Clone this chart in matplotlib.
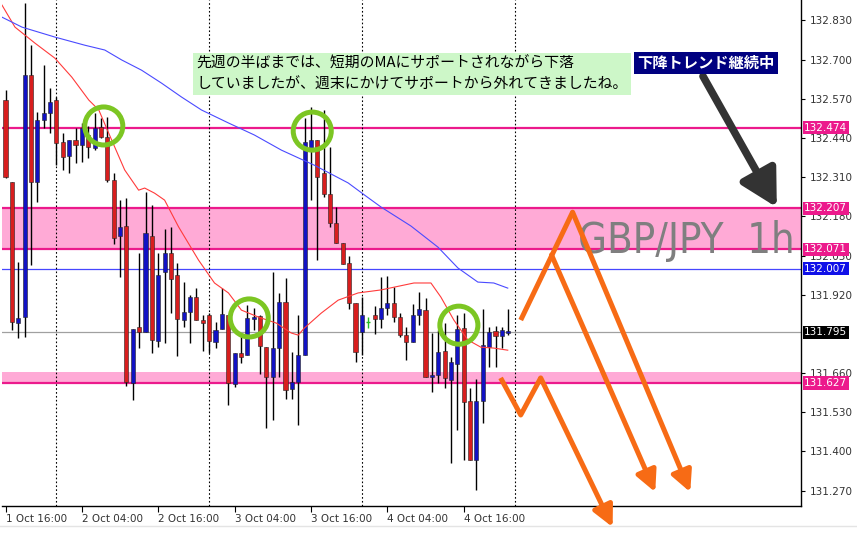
import matplotlib
matplotlib.use("Agg")
import matplotlib.pyplot as plt
import matplotlib.transforms as mtransforms
from matplotlib.lines import Line2D

# GBP/JPY hourly candles, 1 Oct 16:00 onwards
opens = [132.566, 132.294, 131.826, 131.846, 132.649, 132.294, 132.500, 132.523, 132.566, 132.427,
         132.380, 132.434, 132.417, 132.450, 132.407, 132.477, 132.443, 132.301, 132.115, 132.148,
         131.627, 131.813, 131.796, 132.115, 131.767, 131.996, 132.059, 131.986, 131.836, 131.863,
         131.913, 131.836, 131.853, 131.763, 131.806, 131.853, 131.624, 131.727, 131.720, 131.840,
         131.850, 131.747, 131.647, 131.743, 131.896, 131.607, 131.631, 131.720, 132.407, 132.434,
         132.324, 132.254, 132.158, 132.092, 132.025, 131.893, 131.796, 131.830, 131.853, 131.840,
         131.876, 131.893, 131.846, 131.787, 131.763, 131.853, 131.869, 131.647, 131.654, 131.733,
         131.637, 131.690, 131.810, 131.568, 131.372, 131.568, 131.747, 131.800, 131.783, 131.794]
highs = [132.599, 132.294, 132.029, 132.888, 132.749, 132.526, 132.682, 132.606, 132.576, 132.457,
         132.434, 132.473, 132.490, 132.480, 132.523, 132.506, 132.510, 132.324, 132.234, 132.241,
         131.806, 132.059, 132.261, 132.218, 132.059, 132.138, 132.145, 132.025, 131.962, 131.919,
         131.942, 131.853, 131.860, 131.830, 131.942, 131.853, 131.727, 131.787, 131.886, 131.876,
         131.853, 131.747, 131.996, 131.926, 131.976, 131.730, 131.853, 132.506, 132.543, 132.434,
         132.533, 132.410, 132.211, 132.092, 132.049, 131.893, 131.913, 131.846, 131.883, 131.979,
         131.982, 131.946, 131.860, 131.813, 131.889, 131.929, 131.909, 131.793, 131.803, 131.826,
         131.714, 131.853, 131.860, 131.611, 131.641, 131.873, 131.813, 131.816, 131.813, 131.873]
lows = [132.307, 131.803, 131.777, 131.780, 132.019, 132.228, 132.473, 132.457, 132.351, 132.334,
        132.324, 132.357, 132.361, 132.374, 132.400, 132.440, 132.294, 132.088, 131.979, 131.617,
        131.571, 131.743, 131.796, 131.727, 131.747, 131.760, 131.860, 131.717, 131.813, 131.760,
        131.836, 131.733, 131.727, 131.743, 131.806, 131.554, 131.614, 131.694, 131.720, 131.803,
        131.657, 131.478, 131.505, 131.647, 131.574, 131.574, 131.488, 131.720, 132.234, 132.035,
        132.244, 132.145, 132.092, 132.022, 131.873, 131.697, 131.720, 131.810, 131.790, 131.810,
        131.853, 131.830, 131.780, 131.704, 131.763, 131.820, 131.647, 131.597, 131.627, 131.611,
        131.362, 131.471, 131.372, 131.372, 131.272, 131.495, 131.680, 131.680, 131.743, 131.787]
closes = [132.311, 131.830, 131.843, 132.649, 132.294, 132.500, 132.523, 132.560, 132.424, 132.377,
          132.434, 132.417, 132.473, 132.410, 132.473, 132.443, 132.301, 132.108, 132.145, 131.631,
          131.806, 131.796, 132.125, 131.770, 131.986, 132.059, 131.972, 131.840, 131.863, 131.913,
          131.836, 131.826, 131.767, 131.803, 131.856, 131.627, 131.727, 131.714, 131.843, 131.846,
          131.750, 131.647, 131.743, 131.896, 131.604, 131.631, 131.720, 132.427, 132.434, 132.311,
          132.254, 132.158, 132.092, 132.022, 131.893, 131.730, 131.853, 131.830, 131.840, 131.876,
          131.893, 131.846, 131.787, 131.763, 131.853, 131.873, 131.647, 131.654, 131.730, 131.644,
          131.697, 131.806, 131.564, 131.372, 131.568, 131.753, 131.796, 131.783, 131.803, 131.797]

tick_bars = [0, 12, 24, 36, 48, 60, 72]
tick_labels = ["1 Oct 16:00", "2 Oct 04:00", "2 Oct 16:00", "3 Oct 04:00",
               "3 Oct 16:00", "4 Oct 04:00", "4 Oct 16:00"]
day_breaks = [8, 32, 56, 80]

price_ticks = [132.830, 132.700, 132.570, 132.440, 132.310, 132.180, 132.050,
               131.920, 131.660, 131.530, 131.400, 131.270]

# moving averages (bar index, price)
fast_ma_x = [-0.55, 1.49, 4.62, 7.76, 10.42, 13.09, 14.66, 16.69, 18.73, 20.92, 21.87, 23.43,
             25.0, 27.2, 30.33, 32.84, 35.03, 37.07, 39.73, 42.55, 44.9, 46.0, 46.94, 49.61,
             52.27, 55.41, 59.01, 64.18, 66.85, 68.42, 70.45, 72.65, 74.69, 76.72, 78.92]
fast_ma_y = [132.881, 132.808, 132.755, 132.705, 132.642, 132.566, 132.533, 132.433, 132.334,
             132.267, 132.274, 132.257, 132.234, 132.145, 132.035, 131.959, 131.926, 131.869,
             131.846, 131.826, 131.793, 131.786, 131.809, 131.859, 131.902, 131.926, 131.936,
             131.959, 131.959, 131.912, 131.836, 131.770, 131.746, 131.743, 131.736]
slow_ma_x = [-0.55, 2.59, 7.76, 12.46, 15.6, 18.26, 21.39, 24.53, 27.66, 30.8, 35.03, 39.11,
             43.34, 48.51, 53.84, 56.66, 59.01, 63.71, 67.95, 71.08, 74.22, 76.72, 78.92]
slow_ma_y = [132.841, 132.808, 132.775, 132.748, 132.732, 132.699, 132.665, 132.622, 132.576,
             132.533, 132.490, 132.450, 132.400, 132.350, 132.291, 132.247, 132.211, 132.148,
             132.078, 132.009, 131.962, 131.959, 131.942]

# horizontal levels
resistance = 132.474
zone_top = 132.207
zone_bottom = 132.071
blue_level = 132.007
last_price = 131.795
support = 131.627
support_zone_top = 131.664

# annotation marks
circle_x = [15.44, 48.2, 38.3, 71.24]
circle_y = [132.480, 132.463, 131.843, 131.819]

upper_path_x = [80.96, 89.11, 107.6]
upper_path_y = [131.836, 132.194, 131.265]
inner_path_x = [85.8, 102.1]
inner_path_y = [132.052, 131.265]
lower_path_x = [77.8, 80.96, 84.1, 95.4]
lower_path_y = [131.644, 131.521, 131.644, 131.149]

RED = "#d81e1e"
BLUE = "#1212c4"
PINK_LINE = "#ec1a8c"
PINK_FILL = "#ffaad6"
ORANGE = "#f76b15"
JP = ["Noto Sans CJK JP", "DejaVu Sans"]

fig = plt.figure(figsize=(8.57, 5.38), dpi=100)
ax = fig.add_axes([2 / 857, 32 / 538, 799 / 857, 506 / 538])
ax.set_xlim(-0.55, 125)
ax.set_ylim(131.219, 132.898)

# zones and levels
ax.axhspan(zone_bottom, zone_top, color=PINK_FILL, lw=0, zorder=1)
ax.axhspan(support, support_zone_top, color=PINK_FILL, lw=0, zorder=1)
for lv in [resistance, zone_top, zone_bottom, support]:
    ax.axhline(lv, color=PINK_LINE, lw=1.6, zorder=2)
ax.axhline(blue_level, color="#4646ff", lw=0.9, zorder=2)
ax.axhline(last_price, color="#a0a0a0", lw=0.9, zorder=2)

for b in day_breaks:
    ax.axvline(b, color="black", lw=0.8, ls=(0, (1.5, 2)), zorder=2)

# candles
for i, (o, h, l, c) in enumerate(zip(opens, highs, lows, closes)):
    if c > o:
        col = BLUE
    elif c < o:
        col = RED
    else:
        col = "#22bb22"
    ax.vlines(i, l, h, color="black" if col != "#22bb22" else col, lw=1.0, zorder=3)
    if col == "#22bb22":
        ax.hlines(o, i - 0.3, i + 0.3, color=col, lw=1.0, zorder=4)
        continue
    body = max(abs(c - o), 0.005)
    ax.bar(i, body, bottom=min(o, c), width=0.64, color=col,
           edgecolor="#222222", linewidth=0.4, zorder=4)

ax.plot(fast_ma_x, fast_ma_y, color="#ff3b3b", lw=0.8, zorder=5)
ax.plot(slow_ma_x, slow_ma_y, color="#4a4aff", lw=0.8, zorder=5)

ax.scatter(circle_x, circle_y, s=750, facecolors="none", edgecolors="#7cc623",
           linewidths=3.6, zorder=7)

# scenario arrows
arrow_kw = dict(arrowstyle="-|>,head_length=0.9,head_width=0.45", color=ORANGE,
                lw=3.6, mutation_scale=14, shrinkA=0, shrinkB=0)
for px, py in [(upper_path_x, upper_path_y), (inner_path_x, inner_path_y),
               (lower_path_x, lower_path_y)]:
    ax.plot(px[:-1], py[:-1], color=ORANGE, lw=3.6, solid_capstyle="butt", zorder=8,
            clip_on=False)
    ax.annotate("", xy=(px[-1], py[-1]), xytext=(px[-2], py[-2]),
                arrowprops=arrow_kw, annotation_clip=False, zorder=8)

ax.annotate("", xy=(121.2, 132.210), xytext=(109.6, 132.645),
            arrowprops=dict(arrowstyle="-|>,head_length=1.1,head_width=0.6",
                            color="#333333", lw=5.5, mutation_scale=20,
                            shrinkA=0, shrinkB=0), zorder=8)

# texts
ax.text(30.0, 132.652,
        "先週の半ばまでは、短期のMAにサポートされながら下落\nしていましたが、週末にかけてサポートから外れてきましたね。",
        family=JP, fontsize=10.7, linespacing=1.65, ha="left", va="center",
        bbox=dict(boxstyle="square,pad=0.22", fc="#cdf7c8", ec="none"), zorder=9)
ax.text(110.1, 132.689, "下降トレンド継続中", family=JP, fontsize=11, fontweight="bold",
        color="white", ha="center", va="center",
        bbox=dict(boxstyle="square,pad=0.2", fc="#000080", ec="none"), zorder=9)
ax.text(89.9, 132.097, "GBP/JPY  1h", family=["Liberation Sans Narrow", "DejaVu Sans"],
        fontstretch="condensed", fontsize=30, color="#7f7f7f", ha="left", va="center",
        zorder=6)

# axes styling
for side in ["top", "left"]:
    ax.spines[side].set_visible(False)
ax.spines["right"].set_linewidth(1.0)
ax.spines["bottom"].set_linewidth(1.0)
ax.yaxis.tick_right()
ax.set_yticks(price_ticks)
ax.set_yticklabels([f"{p:.3f}" for p in price_ticks])
ax.tick_params(axis="y", length=3, pad=3, labelsize=7.5, labelcolor="#333333")
ax.set_xticks(tick_bars)
ax.set_xticklabels(tick_labels)
for lab in ax.get_xticklabels():
    lab.set_ha("left")
ax.tick_params(axis="x", length=4, pad=2, labelsize=7.5, labelcolor="#333333")

trans = mtransforms.blended_transform_factory(ax.transAxes, ax.transData)
for val, bg in [(resistance, PINK_LINE), (zone_top, PINK_LINE), (zone_bottom, PINK_LINE),
                (blue_level, "#1010e8"), (last_price, "black"), (support, PINK_LINE)]:
    ax.text(1.004, val, f"{val:.3f}", transform=trans, ha="left", va="center",
            fontsize=7.5, color="white", clip_on=False, zorder=10,
            bbox=dict(boxstyle="square,pad=0.15", fc=bg, ec="none"))

fig.add_artist(Line2D([0, 1], [12 / 538, 12 / 538], color="#e4e4e4", lw=1))

fig.savefig("out.png", dpi=100)
